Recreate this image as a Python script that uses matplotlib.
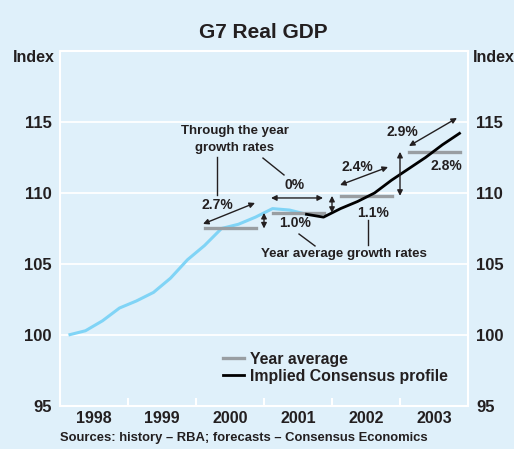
import matplotlib
matplotlib.use("Agg")
import matplotlib.pyplot as plt
import numpy as np
from matplotlib.lines import Line2D

# ---- data ----
hist_q = [1998.125, 1998.375, 1998.625, 1998.875, 1999.125, 1999.375, 1999.625, 1999.875,
          2000.125, 2000.375, 2000.625, 2000.875, 2001.125, 2001.375, 2001.625]
hist_v = [100.0, 100.3, 101.0, 101.9, 102.4, 103.0, 104.0, 105.3,
          106.3, 107.5, 107.8, 108.3, 108.9, 108.8, 108.5]
fc_q = [2001.625, 2001.875, 2002.125, 2002.375, 2002.625, 2002.875,
        2003.125, 2003.375, 2003.625, 2003.875]
fc_v = [108.5, 108.3, 108.9, 109.4, 110.0, 110.9, 111.7, 112.5, 113.4, 114.2]
avg_years = [2000, 2001, 2002, 2003]
avg_v = [107.5, 108.6, 109.8, 112.9]
year_labels = ["1998", "1999", "2000", "2001", "2002", "2003"]

BG = "#dff0fa"
BLUE = "#80d4f6"
GRAY = "#999ea2"
TXT = "#231f20"
FONT = ["Liberation Sans", "DejaVu Sans"]
plt.rcParams["font.family"] = FONT
plt.rcParams["font.weight"] = "bold"

W, H = 514, 449
fig = plt.figure(figsize=(W / 100, H / 100), dpi=100, facecolor=BG)
ax = fig.add_axes([60 / W, (H - 406) / H, 408 / W, 355 / H], facecolor=BG)
ax.set_xlim(1998, 2004)
ax.set_ylim(95, 120)

for y in [100, 105, 110, 115]:
    ax.axhline(y, color="white", lw=1.3, zorder=1)
for s in ax.spines.values():
    s.set_color("white")
    s.set_linewidth(1.5)

ax.set_yticks([95, 100, 105, 110, 115])
ax.tick_params(axis="y", length=0, labelsize=12, colors=TXT, pad=6,
               labelright=True, right=False)
ax.set_xticks(range(1999, 2004))
ax.set_xticklabels([])
ax.tick_params(axis="x", direction="in", length=6, color="white", width=1.5)
for i, lab in enumerate(year_labels):
    ax.text(1998.5 + i, 94.15, lab, ha="center", va="center", fontsize=11.5,
            color=TXT, fontweight="bold")

ax.plot(hist_q, hist_v, color=BLUE, lw=2.2, zorder=3, solid_capstyle="butt")
ax.plot(fc_q, fc_v, color="black", lw=2.0, zorder=4)
for yr, v in zip(avg_years, avg_v):
    ax.plot([yr + 0.125, yr + 0.875], [v, v], color=GRAY, lw=2.4, zorder=3.5)

aprops = dict(arrowstyle="<|-|>", color=TXT, lw=1.0, mutation_scale=8,
              shrinkA=0, shrinkB=0)
# through-the-year arrows
for (x0, y0), (x1, y1) in [((2000.103, 107.82), (2000.868, 109.30)),
                           ((2001.103, 109.65), (2001.868, 109.65)),
                           ((2002.118, 110.56), (2002.824, 111.83)),
                           ((2003.132, 113.31), (2003.838, 115.28))]:
    ax.annotate("", xy=(x1, y1), xytext=(x0, y0), arrowprops=aprops, zorder=5)
# year-average arrows
for i in range(1, len(avg_years)):
    ax.annotate("", xy=(avg_years[i], avg_v[i]), xytext=(avg_years[i], avg_v[i - 1]),
                arrowprops=aprops, zorder=5)

fs = 10
labels = [("2.7%", 2000.31, 109.15), ("0%", 2001.456, 110.56), ("1.0%", 2001.456, 107.89),
          ("1.1%", 2002.60, 108.59), ("2.4%", 2002.37, 111.83), ("2.9%", 2003.04, 114.30),
          ("2.8%", 2003.68, 111.90)]
for t, x, y in labels:
    ax.text(x, y, t, ha="center", va="center", fontsize=fs, color=TXT, fontweight="bold")
ax.text(2000.57, 114.37, "Through the year", ha="center", va="center", fontsize=9.5,
        color=TXT, fontweight="bold")
ax.text(2000.57, 113.17, "growth rates", ha="center", va="center", fontsize=9.5,
        color=TXT, fontweight="bold")
ax.text(2002.18, 105.70, "Year average growth rates", ha="center", va="center",
        fontsize=9.6, color=TXT, fontweight="bold")
for (x0, y0), (x1, y1) in [((2000.31, 112.54), (2000.31, 109.86)),
                           ((2000.985, 112.46), (2001.294, 111.27)),
                           ((2001.515, 107.11), (2001.75, 106.27)),
                           ((2002.53, 108.10), (2002.53, 106.34))]:
    ax.plot([x0, x1], [y0, y1], color=TXT, lw=1.0, zorder=5)

# legend
handles = [Line2D([], [], color=GRAY, lw=2.4), Line2D([], [], color="black", lw=2.0)]
leg = ax.legend(handles, ["Year average", "Implied Consensus profile"],
                loc="upper left", bbox_to_anchor=(163 / 408, 0.152), bbox_transform=ax.transAxes,
                frameon=False, fontsize=11.4, handlelength=1.3, handletextpad=0.38,
                labelspacing=0.12, borderaxespad=0, borderpad=0)
for t in leg.get_texts():
    t.set_color(TXT)
    t.set_fontweight("bold")

fig.text(263 / W, 1 - 33 / H, "G7 Real GDP", ha="center", va="center", fontsize=15,
         color=TXT, fontweight="bold")
fig.text(34 / W, 1 - 58 / H, "Index", ha="center", va="center", fontsize=11.5,
         color=TXT, fontweight="bold")
fig.text(494 / W, 1 - 58 / H, "Index", ha="center", va="center", fontsize=11.5,
         color=TXT, fontweight="bold")
fig.text(244 / W, 1 - 438 / H, "Sources: history \u2013 RBA; forecasts \u2013 Consensus Economics",
         ha="center", va="center", fontsize=9.4, color=TXT, fontweight="bold")

fig.savefig("out.png", dpi=100, facecolor=BG)
